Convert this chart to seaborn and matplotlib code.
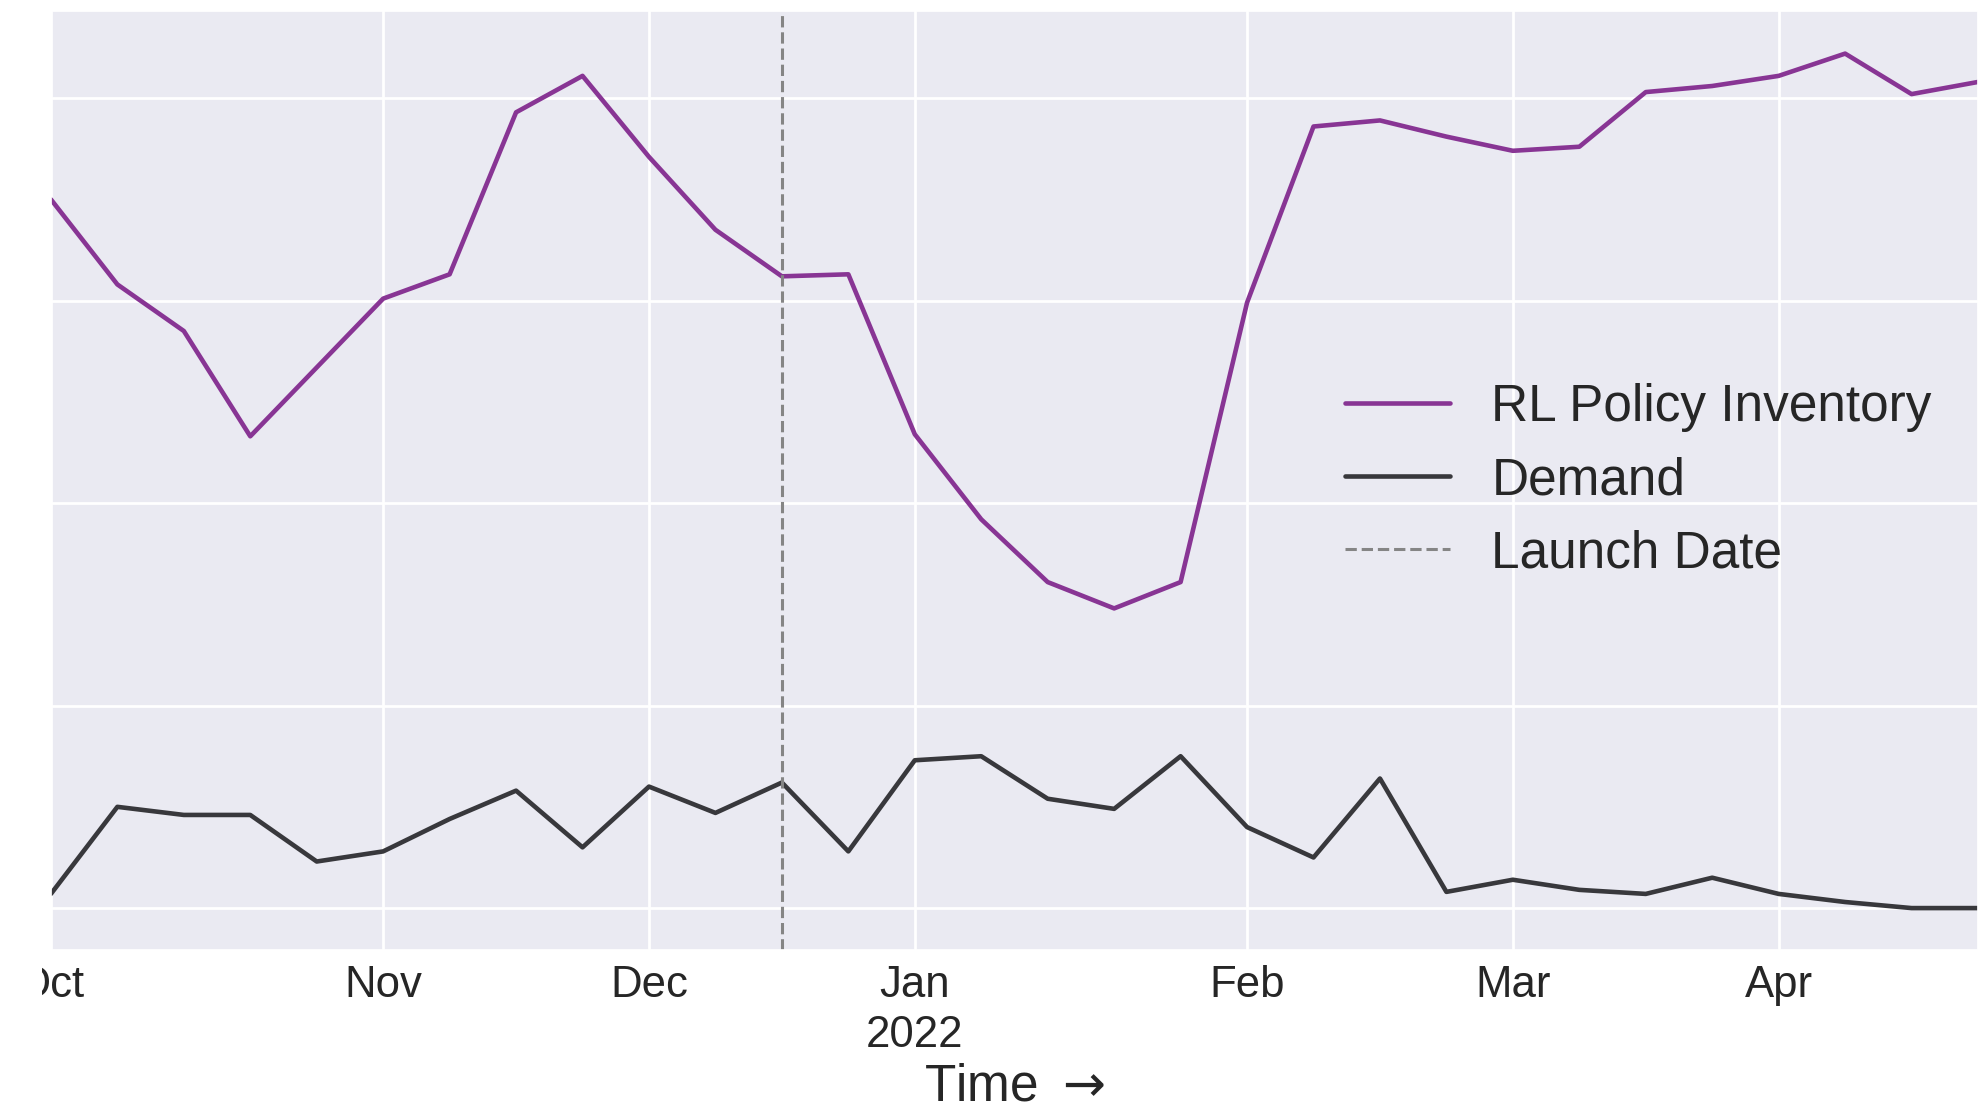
import pandas as pd
import numpy as np
import matplotlib.pyplot as plt
import seaborn as sns
from matplotlib.transforms import Bbox, TransformedBbox

sns.set_theme(style='darkgrid')
plt.rcParams['font.family'] = ['Liberation Sans', 'DejaVu Sans']
plt.rcParams['grid.linewidth'] = 2
plt.rcParams['mathtext.fontset'] = 'dejavusans'

# weekly periods (week ending Sunday)
weeks = pd.date_range('2021-10-03', '2022-04-24', freq='W-SUN')

rl_inventory = [350, 308, 285, 233, 267, 301, 313, 393, 411, 371,
                335, 312, 313, 234, 192, 161, 148, 161, 299, 386,
                389, 381, 374, 376, 403, 406, 411, 422, 402, 408]

demand = [7, 50, 46, 46, 23, 28, 44, 58, 30, 60,
          47, 62, 28, 73, 75, 54, 49, 75, 40, 25,
          64, 8, 14, 9, 7, 15, 7, 3, 0, 0]

launch_date = pd.Timestamp('2021-12-19')

pos = np.arange(len(weeks))

fig = plt.figure(figsize=(19.81, 11.08), dpi=100)
ax = fig.add_axes([0.0257, 0.1426, 0.9728, 0.8474])

sns.lineplot(x=pos, y=rl_inventory, color='#883594', linewidth=3.3, label='RL Policy Inventory', ax=ax)
sns.lineplot(x=pos, y=demand, color='#38383c', linewidth=3.3, label='Demand', ax=ax)
ax.axvline(weeks.get_loc(launch_date), color='#858585', linewidth=2.2,
           linestyle='--', label='Launch Date')

# month ticks at the first week of each month, year under January
first = [i for i in range(len(weeks)) if i == 0 or weeks[i].month != weeks[i - 1].month]
labels = []
for i in first:
    lab = weeks[i].strftime('%b')
    if weeks[i].month == 1:
        lab += '\n' + str(weeks[i].year)
    labels.append(lab)
ax.set_xticks(first)
ax.set_xticklabels(labels, fontsize=31.5, linespacing=1.27)
ax.set_xlim(0, len(weeks) - 1)

ax.set_yticks([0, 100, 200, 300, 400])
ax.set_yticklabels([])
ax.set_ylim(-20.7, 443)
ax.tick_params(length=0, pad=11)

ax.set_xlabel('Time $\\rightarrow$', fontsize=37, labelpad=5)
ax.set_ylabel('')

ax.legend(loc='center right', fontsize=37, frameon=False, labelspacing=0.47,
          handlelength=2.05, borderaxespad=0.5)

# left edge of the picture cuts the first tick label
clip = TransformedBbox(Bbox([[42 / 1981, 0], [1, 1]]), fig.transFigure)
for t in ax.get_xticklabels():
    t.set_clip_on(True)
    t.set_clip_box(clip)

plt.savefig('out.png', dpi=100)
